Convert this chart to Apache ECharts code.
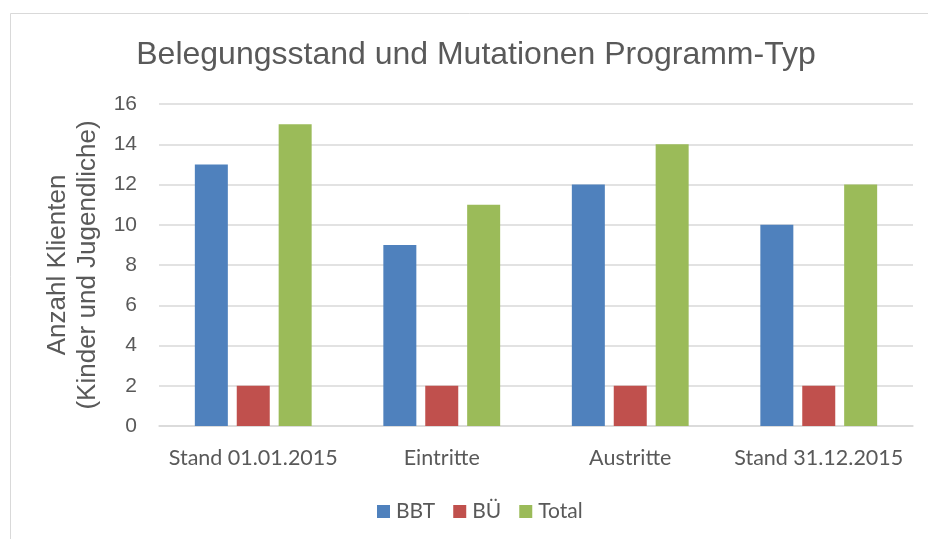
<!DOCTYPE html>
<html>
<head>
<meta charset="utf-8">
<script src="https://cdn.jsdelivr.net/npm/echarts@6/dist/echarts.min.js"></script>
<style>html,body{margin:0;padding:0;background:#fff}#c{width:928px;height:539px}</style>
</head>
<body>
<div id="c"></div>
<script>
const categories = ['Stand 01.01.2015', 'Eintritte', 'Austritte', 'Stand 31.12.2015'];
const seriesNames = ['BBT', 'BÜ', 'Total'];
const bbt = [13, 9, 12, 10];
const bue = [2, 2, 2, 2];
const total = [15, 11, 14, 12];
const colors = ['#4F81BD', '#C0504D', '#9BBB59'];

const chart = echarts.init(document.getElementById('c'));
const txt = '#595959';
chart.setOption({
  animation: false,
  backgroundColor: '#fff',
  graphic: [{
    type: 'rect', silent: true, z: -1,
    shape: { x: 10.5, y: 13.5, width: 1000, height: 1000 },
    style: { fill: 'none', stroke: '#d9d9d9', lineWidth: 1 }
  }],
  title: {
    text: 'Belegungsstand und Mutationen Programm-Typ',
    left: 476, top: 39, padding: 0, textAlign: 'center',
    textStyle: { fontFamily: 'Liberation Sans', fontSize: 32, fontWeight: 'normal', color: txt }
  },
  legend: {
    data: seriesNames,
    left: 377, top: 501, padding: 0,
    itemWidth: 13, itemHeight: 13, itemGap: 18,
    icon: 'rect',
    textStyle: { fontFamily: 'Lato', fontSize: 21, color: txt, padding: [0, 0, 0, 1] }
  },
  grid: { left: 159, right: 15, top: 104, bottom: 113, containLabel: false },
  xAxis: {
    type: 'category',
    data: categories,
    axisLine: { lineStyle: { color: '#d9d9d9', width: 1.5 } },
    axisTick: { show: false },
    axisLabel: { fontFamily: 'Lato', fontSize: 21.5, color: txt, margin: 21, interval: 0 }
  },
  yAxis: {
    type: 'value',
    min: 0, max: 16, interval: 2,
    name: 'Anzahl Klienten\n(Kinder und Jugendliche)',
    nameLocation: 'middle',
    nameGap: 54,
    nameTextStyle: { fontFamily: 'Liberation Sans', fontSize: 26, color: txt, lineHeight: 30 },
    axisLine: { show: false },
    axisTick: { show: false },
    splitLine: { lineStyle: { color: '#d9d9d9', width: 1.5 } },
    axisLabel: { fontFamily: 'Liberation Sans', fontSize: 21, color: txt, margin: 22 }
  },
  series: [
    { name: seriesNames[0], type: 'bar', data: bbt, barWidth: 33, barGap: '27%', itemStyle: { color: colors[0] } },
    { name: seriesNames[1], type: 'bar', data: bue, barWidth: 33, barGap: '27%', itemStyle: { color: colors[1] } },
    { name: seriesNames[2], type: 'bar', data: total, barWidth: 33, barGap: '27%', itemStyle: { color: colors[2] } }
  ]
});
</script>
</body>
</html>
